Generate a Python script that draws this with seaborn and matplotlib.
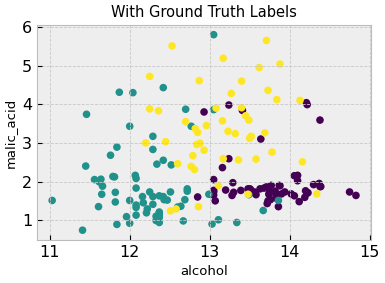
import matplotlib
matplotlib.use("Agg")
import matplotlib.pyplot as plt
import seaborn as sns
import pandas as pd
import numpy as np

alcohol_0 = [14.23,13.2,13.16,14.37,13.24,14.2,14.39,14.06,14.83,13.86,14.1,14.12,13.75,14.75,14.38,13.63,14.3,13.83,14.19,13.64,14.06,12.93,13.71,12.85,13.5,13.05,13.39,13.3,13.87,14.02,13.73,13.58,13.68,13.76,13.51,13.48,13.28,13.05,13.07,14.22,13.56,13.41,13.88,13.24,13.05,14.21,14.38,13.9,14.1,13.94,13.05,13.83,13.82,13.77,13.74,13.56,14.22,13.29,13.72]
malic_0 = [1.71,1.78,2.36,1.95,2.59,1.76,1.87,2.15,1.64,1.35,2.16,1.48,1.73,1.73,1.87,1.81,1.92,1.57,1.59,3.1,1.63,3.8,1.86,1.6,1.81,2.05,1.77,1.72,1.9,1.68,1.5,1.66,1.83,1.53,1.8,1.81,1.64,1.65,1.5,3.99,1.71,3.84,1.89,3.98,1.77,4.04,3.59,1.68,2.02,1.73,1.73,1.65,1.75,1.9,1.67,1.73,1.7,1.97,1.43]

alcohol_1 = [12.37,12.33,12.64,13.67,12.37,12.17,12.37,13.11,12.37,13.34,12.21,12.29,13.86,13.49,12.99,11.96,11.66,13.03,11.84,12.33,12.7,12.0,12.72,12.08,13.05,11.84,12.67,12.16,11.65,11.64,12.08,12.08,12.0,12.69,12.29,11.62,12.47,11.81,12.29,12.37,12.29,12.08,12.6,12.34,11.82,12.51,12.42,12.25,12.72,12.22,11.61,11.46,12.52,11.76,11.41,12.08,11.03,11.82,12.42,12.77,12.0,11.45,11.56,12.42,13.05,11.87,12.07,12.43,11.79,12.37,12.04]
malic_1 = [0.94,1.1,1.36,1.25,1.13,1.45,1.21,1.01,1.17,0.94,1.19,1.61,1.51,1.66,1.67,1.09,1.88,0.9,2.89,0.99,3.87,0.92,1.81,1.13,3.86,0.89,0.98,1.61,1.67,2.06,1.33,1.83,1.51,1.53,2.83,1.99,1.52,2.12,1.41,1.07,3.17,2.08,1.34,2.45,1.72,1.73,2.55,1.73,1.75,1.29,1.35,3.74,2.43,2.68,0.74,1.39,1.51,1.47,1.61,3.43,3.43,2.4,2.05,4.43,5.8,4.31,2.16,1.53,2.13,1.63,4.3]

alcohol_2 = [12.86,12.88,12.81,12.7,12.51,12.6,12.25,12.53,13.49,12.84,12.93,13.36,13.52,13.62,12.25,13.16,13.88,12.87,13.32,13.08,13.5,12.79,13.11,13.23,12.58,13.17,13.84,12.45,14.34,13.48,12.36,13.69,12.85,12.96,13.78,13.73,13.45,12.82,13.58,13.4,12.2,12.77,14.16,13.71,13.4,13.27,13.17,14.13]
malic_2 = [1.35,2.99,2.31,3.55,1.24,2.46,4.72,5.51,3.59,2.96,2.81,2.56,3.17,4.95,3.88,3.57,5.04,4.61,3.24,3.9,3.12,2.67,1.9,3.3,1.29,5.19,4.12,3.03,1.68,1.67,3.83,3.26,3.27,3.45,2.76,4.36,3.7,3.37,2.58,4.6,3.0,2.39,2.51,5.65,3.91,4.28,2.59,4.1]

df = pd.DataFrame({
    "alcohol": alcohol_0 + alcohol_1 + alcohol_2,
    "malic_acid": malic_0 + malic_1 + malic_2,
    "label": [0]*len(alcohol_0) + [1]*len(alcohol_1) + [2]*len(alcohol_2),
})

plt.style.use("bmh")
cmap = matplotlib.colormaps["viridis"]
palette = {0: cmap(0.0), 1: cmap(0.5), 2: cmap(1.0)}

fig, ax = plt.subplots(figsize=(3.85, 2.83), dpi=100)
fig.patch.set_facecolor("white")
sns.scatterplot(data=df, x="alcohol", y="malic_acid", hue="label", palette=palette,
                s=30, linewidth=0, alpha=1, legend=False, ax=ax)
ax.set_title("With Ground Truth Labels", fontsize=10.5)
ax.set_xlabel("alcohol", fontsize=9.5)
ax.set_ylabel("malic_acid", fontsize=9.5)
ax.tick_params(labelsize=11.5)
ax.set_xticks([11, 12, 13, 14, 15])
ax.set_yticks([1, 2, 3, 4, 5, 6])
ax.grid(True, linestyle="--", linewidth=0.6, color="#c8c8c8")
for sp in ax.spines.values():
    sp.set_color("#bcbcbc")
fig.subplots_adjust(left=0.096, right=0.964, top=0.912, bottom=0.152)
fig.savefig("out.png", dpi=100)
